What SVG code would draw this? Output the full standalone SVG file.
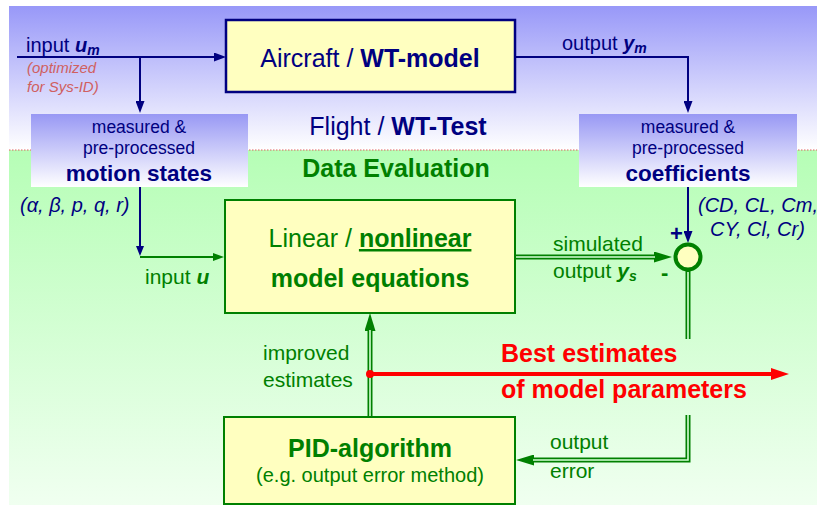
<svg xmlns="http://www.w3.org/2000/svg" width="817" height="506" viewBox="0 0 817 506">
<defs>
<linearGradient id="gTop" x1="0" y1="0" x2="0" y2="1">
<stop offset="0" stop-color="#9898f8"/>
<stop offset="1" stop-color="#ffffff"/>
</linearGradient>
<linearGradient id="gBot" x1="0" y1="0" x2="0" y2="1">
<stop offset="0" stop-color="#b6feb6"/>
<stop offset="1" stop-color="#f0fff0"/>
</linearGradient>
<linearGradient id="gBox" x1="0" y1="0" x2="0" y2="1">
<stop offset="0" stop-color="#9898f4"/>
<stop offset="1" stop-color="#ffffff"/>
</linearGradient>
<marker id="aNavy" markerUnits="userSpaceOnUse" markerWidth="12" markerHeight="9" refX="0" refY="4.5" orient="auto">
<path d="M0,0 L12,4.5 L0,9 z" fill="#000080"/>
</marker>
<marker id="aNavyS" markerUnits="userSpaceOnUse" markerWidth="10" markerHeight="8" refX="0" refY="4" orient="auto">
<path d="M0,0 L10,4 L0,8 z" fill="#000080"/>
</marker>
<marker id="aGreenS" markerUnits="userSpaceOnUse" markerWidth="11" markerHeight="8" refX="0" refY="4" orient="auto">
<path d="M0,0 L11,4 L0,8 z" fill="#008000"/>
</marker>
<marker id="aGreen" markerUnits="userSpaceOnUse" markerWidth="18" markerHeight="11" refX="0" refY="5.5" orient="auto">
<path d="M0,0 L18,5.5 L0,11 z" fill="#008000"/>
</marker>
<marker id="aRed" markerUnits="userSpaceOnUse" markerWidth="18" markerHeight="12" refX="0" refY="6" orient="auto">
<path d="M0,0 L18,6 L0,12 z" fill="#ff0000"/>
</marker>
</defs>
<style>
text { font-family: "Liberation Sans", Arial, sans-serif; }
.navy { fill: #000080; }
.green { fill: #008000; }
.red { fill: #ff0000; font-weight: bold; font-size: 25px; }
.b { font-weight: bold; }
.bi { font-weight: bold; font-style: italic; }
.it { font-style: italic; }
.lnNavy { fill: none; stroke: #000080; stroke-width: 2; }
.lnGreen { fill: none; stroke: #008000; stroke-width: 2; }
.dblO { fill: none; stroke: #008000; stroke-width: 5; }
.dblI { fill: none; stroke: #d8ffd8; stroke-width: 1.6; }
.boxY { fill: #ffffc0; }
</style>

<!-- background -->
<rect x="9" y="6" width="808" height="144" fill="url(#gTop)"/>
<rect x="9" y="150" width="808" height="355" fill="url(#gBot)"/>
<line x1="9" y1="150" x2="817" y2="150" stroke="#e06060" stroke-width="1" stroke-dasharray="1.5,1.5"/>

<text x="398" y="135" text-anchor="middle" font-size="25" class="navy">Flight / <tspan class="b">WT-Test</tspan></text>
<text x="396" y="177" text-anchor="middle" font-size="25" class="green b">Data Evaluation</text>

<!-- connectors -->
<g id="connectors">
<path class="lnNavy" d="M17,57 H214" marker-end="url(#aNavy)"/>
<path class="lnNavy" d="M140,57 V101" marker-end="url(#aNavy)"/>
<path class="lnNavy" d="M515,57 H688 V101" marker-end="url(#aNavy)"/>
<path class="lnNavy" d="M140,187 V246" marker-end="url(#aNavyS)"/>
<path class="lnGreen" d="M140,257 H213" marker-end="url(#aGreenS)"/>
<path class="lnNavy" d="M688,187 V231" marker-end="url(#aNavy)"/>
<path class="dblO" d="M515,257 H654" marker-end="url(#aGreen)"/>
<path class="dblI" d="M516,257 H655"/>
<path class="dblO" d="M688,270 V339"/>
<path class="dblI" d="M688,272 V339"/>
<path class="dblO" d="M688,415 V460 H534" marker-end="url(#aGreen)"/>
<path class="dblI" d="M688,415 V460 H533"/>
<path class="dblO" d="M370,417 V331" marker-end="url(#aGreen)"/>
<path class="dblI" d="M370,416 V330"/>
<path d="M370,374 H771" fill="none" stroke="#ff0000" stroke-width="4" marker-end="url(#aRed)"/>
<circle cx="370" cy="374" r="4" fill="#ff0000"/>
</g>

<!-- labels -->
<text x="26" y="52" font-size="20" class="navy">input <tspan class="bi">u</tspan><tspan class="bi" font-size="14" dy="3">m</tspan></text>
<text x="27" y="73" font-size="15" class="it" fill="#d06060">(optimized</text>
<text x="27" y="92" font-size="15" class="it" fill="#d06060">for Sys-ID)</text>
<text x="562" y="50" font-size="20" class="navy">output <tspan class="bi">y</tspan><tspan class="bi" font-size="14" dy="3">m</tspan></text>
<text x="20" y="212" font-size="20" class="navy it">(α, β, p, q, r)</text>
<text x="145" y="284" font-size="21" class="green">input <tspan class="bi">u</tspan></text>
<text x="698" y="212" font-size="20" class="navy it">(CD, CL, Cm,</text>
<text x="710" y="236" font-size="20" class="navy it">CY, Cl, Cr)</text>
<text x="553" y="251" font-size="21" class="green">simulated</text>
<text x="553" y="278" font-size="21" class="green">output  <tspan class="bi">y</tspan><tspan class="bi" font-size="14" dy="3">s</tspan></text>
<text x="670" y="241" font-size="22" class="navy b">+</text>
<text x="661" y="280" font-size="22" class="green b">-</text>
<text x="263" y="360" font-size="21" class="green">improved</text>
<text x="263" y="387" font-size="21" class="green">estimates</text>
<text x="501" y="362" class="red">Best estimates</text>
<text x="501" y="398" class="red">of model parameters</text>
<text x="550" y="449" font-size="21" class="green">output</text>
<text x="550" y="478" font-size="21" class="green">error</text>

<!-- nodes -->
<g id="aircraft">
<rect x="226" y="20" width="289" height="72" class="boxY" stroke="#000080" stroke-width="2.5"/>
<text x="370" y="67" text-anchor="middle" font-size="25" class="navy">Aircraft / <tspan class="b">WT-model</tspan></text>
</g>
<g id="motion-states">
<rect x="31" y="114" width="217" height="73" fill="url(#gBox)"/>
<text x="139" y="133" text-anchor="middle" font-size="17.5" class="navy">measured &amp;</text>
<text x="139" y="154" text-anchor="middle" font-size="17.5" class="navy">pre-processed</text>
<text x="139" y="181" text-anchor="middle" font-size="22.5" class="navy b">motion states</text>
</g>
<g id="coefficients">
<rect x="579" y="114" width="218" height="73" fill="url(#gBox)"/>
<text x="688" y="133" text-anchor="middle" font-size="17.5" class="navy">measured &amp;</text>
<text x="688" y="154" text-anchor="middle" font-size="17.5" class="navy">pre-processed</text>
<text x="688" y="181" text-anchor="middle" font-size="22.5" class="navy b">coefficients</text>
</g>
<g id="model-equations">
<rect x="225" y="200" width="290" height="113" class="boxY" stroke="#008000" stroke-width="2"/>
<text x="370" y="247" text-anchor="middle" font-size="25" class="green">Linear / <tspan class="b" text-decoration="underline">nonlinear</tspan></text>
<text x="370" y="287" text-anchor="middle" font-size="25" class="green b">model equations</text>
</g>
<g id="sum">
<circle cx="688" cy="257" r="12.5" fill="#ffffc0" stroke="#008000" stroke-width="4"/>
</g>
<g id="pid">
<rect x="224" y="417" width="291" height="87" class="boxY" stroke="#008000" stroke-width="2"/>
<text x="370" y="457" text-anchor="middle" font-size="25" class="green b">PID-algorithm</text>
<text x="370" y="482" text-anchor="middle" font-size="20" class="green">(e.g. output error method)</text>
</g>
</svg>
